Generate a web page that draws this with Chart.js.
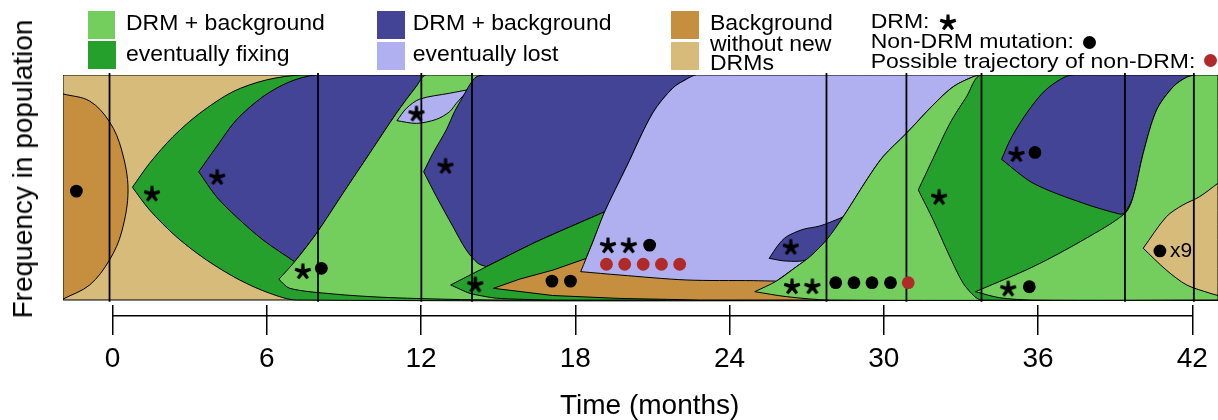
<!DOCTYPE html>
<html>
<head>
<meta charset="utf-8">
<script src="https://cdn.jsdelivr.net/npm/chart.js@4.4.1/dist/chart.umd.min.js"></script>
<style>
  html, body { margin:0; padding:0; background:#fff; }
  #wrap { position:relative; width:1218px; height:420px; overflow:hidden;
          font-family:"Liberation Sans", Arial, Helvetica, sans-serif; color:#000; }
  #chart { position:absolute; left:0; top:0; }
  .lbl { position:absolute; white-space:nowrap; font-size:23px; line-height:23px; transform-origin:0 19.5px; }
  .sw { position:absolute; }
  .dot { position:absolute; border-radius:50%; }
  .ttl { position:absolute; white-space:nowrap; font-size:28px; line-height:28px; }
</style>
</head>
<body>
<div id="wrap">
  <canvas id="chart" width="1218" height="420"></canvas>
</div>
<script>
// ---------------- data (months, frequency) ----------------
const tickValues = [0, 6, 12, 18, 24, 30, 36, 42];
const tickLabels = ['0', '6', '12', '18', '24', '30', '36', '42'];
const sampleTimes = [-0.12, 7.99, 12.01, 13.98, 27.77, 30.88, 33.80, 39.38, 42.06];

const tanBackground = [[-1.93,0],[-1.93,1],[43,1],[43,0]];
const orangeBackground = [[-1.93,0.916],[-0.89,0.884],[-0.12,0.792],[0.35,0.667],[0.60,0.489],[0.35,0.302],[-0.12,0.178],[-0.89,0.067],[-1.93,0.004],[-1.93,0.004]];
const drm1Fixing = [[0.77,0.501],[1.44,0.608],[2.35,0.726],[3.39,0.830],[4.68,0.926],[5.98,0.978],[7.40,1],[43,1],[43,1],[43,0],[43,0],[7.15,0],[6.11,0.030],[4.94,0.089],[3.65,0.178],[2.48,0.281],[1.44,0.400]];
const drm2Lost = [[3.35,0.570],[4.04,0.681],[4.81,0.800],[5.85,0.904],[6.89,0.970],[7.93,1],[12.21,1],[12.21,1],[11.82,0.950],[11.04,0.830],[10.00,0.652],[8.96,0.474],[7.93,0.296],[7.08,0.170],[7.08,0.170],[5.85,0.267],[4.81,0.370],[4.04,0.459]];
const drm3Fixing = [[6.47,0.092],[7.08,0.170],[7.93,0.296],[8.96,0.474],[10.00,0.652],[11.04,0.830],[11.82,0.950],[12.21,1],[43,1],[43,1],[43,0],[43,0],[15.06,0],[13.11,0.003],[10.52,0.012],[8.57,0.027],[6.89,0.052]];
const drm4Lost = [[11.06,0.797],[11.43,0.852],[11.95,0.893],[13.11,0.919],[13.85,0.935],[13.85,0.935],[13.37,0.874],[13.11,0.837],[12.60,0.803],[11.82,0.785]];
const drm5Lost = [[12.10,0.570],[12.46,0.652],[12.98,0.756],[13.30,0.837],[13.63,0.904],[13.89,0.956],[14.15,0.992],[14.54,1],[22.71,1],[22.32,0.981],[21.79,0.942],[21.01,0.831],[19.99,0.592],[19.14,0.392],[19.14,0.392],[16.49,0.259],[14.54,0.148],[14.54,0.148],[14.21,0.163],[13.76,0.222],[13.24,0.326],[12.60,0.459]];
const drm6Fixing = [[13.15,0.067],[14.54,0.148],[16.49,0.259],[19.14,0.392],[19.14,0.392],[18.68,0.258],[18.21,0.126],[18.21,0.126],[21.50,0],[21.50,0],[17.12,0],[14.93,0.008],[13.89,0.030]];
const background2 = [[14.82,0.052],[15.84,0.093],[17.13,0.133],[18.43,0.185],[20.0,0.20],[25.0,0.20],[26.6,0.10],[27.9,0],[22.84,0],[19.73,0.007],[17.12,0.020]];
const drm7Lost = [[18.21,0.126],[18.68,0.258],[19.14,0.392],[19.99,0.592],[21.01,0.831],[21.79,0.942],[22.32,0.981],[22.71,1],[33.80,1],[33.80,1],[33.47,0.992],[32.70,0.948],[31.92,0.867],[30.88,0.741],[29.97,0.637],[29.33,0.533],[28.42,0.370],[27.77,0.267],[27.12,0.192],[26.60,0.148],[25.82,0.084],[25.82,0.084],[24.92,0.086],[22.32,0.089],[19.73,0.111]];
const drm8Lost = [[25.54,0.185],[25.89,0.244],[26.21,0.281],[26.86,0.314],[27.51,0.329],[28.29,0.363],[28.42,0.370],[28.42,0.370],[27.77,0.262],[27.0,0.180],[26.21,0.173]];
const drm9Fixing = [[24.98,0.037],[25.82,0.084],[26.60,0.148],[27.12,0.192],[27.77,0.267],[28.42,0.370],[29.33,0.533],[29.97,0.637],[30.88,0.741],[31.92,0.867],[32.70,0.948],[33.47,0.992],[33.80,1],[43,1],[43,1],[43,0],[43,0],[27.90,0],[26.21,0.015]];
const drm10Fixing = [[31.34,0.489],[31.92,0.630],[32.57,0.785],[33.22,0.904],[33.80,1],[43,1],[43,1],[43,0],[43,0],[33.80,0],[33.54,0.015],[33.09,0.074],[32.57,0.192],[31.92,0.356]];
const drm11Lost = [[34.58,0.625],[34.98,0.726],[35.64,0.844],[36.29,0.933],[37.07,0.993],[37.50,1],[42.17,1],[41.78,0.990],[41.26,0.948],[40.61,0.844],[40.09,0.652],[39.70,0.459],[39.38,0.385],[39.38,0.385],[39.18,0.382],[37.76,0.430],[35.81,0.519]];
const drm12Fixing = [[33.57,0.037],[35.81,0.148],[37.76,0.267],[39.38,0.385],[39.70,0.459],[40.09,0.652],[40.61,0.844],[41.26,0.948],[41.78,0.990],[42.17,1],[43,1],[43,1],[43,0],[43,0],[35.80,0],[34.51,0.010]];
const background3 = [[40.09,0.230],[40.99,0.370],[41.63,0.422],[42.28,0.459],[43,0.519],[43,0.519],[43,0.020],[43,0.020],[42.69,0.030],[41.78,0.067],[40.99,0.133]];

const drmMarks = [[1.53,0.474],[4.07,0.548],[7.40,0.129],[11.82,0.830],[12.95,0.597],[14.11,0.070],[19.27,0.244],[20.08,0.244],[26.38,0.237],[26.43,0.062],[27.22,0.062],[32.15,0.459],[35.16,0.649],[34.84,0.052]];
const nonDrmMarks = [[-1.41,0.484],[8.12,0.141],[17.09,0.084],[17.81,0.084],[20.89,0.244],[28.13,0.077],[28.84,0.077],[29.54,0.077],[30.26,0.077],[35.88,0.656],[35.66,0.059],[40.74,0.218]];
const possibleMarks = [[19.21,0.159],[19.92,0.159],[20.64,0.159],[21.35,0.159],[22.06,0.159],[30.95,0.077]];

// ---------------- styles ----------------
const TAN = '#D6BB7A', ORANGE = '#C68F40', LGREEN = '#73CE5E', DGREEN = '#26A02D',
      DBLUE = '#444496', LAV = '#B0B0F0', RED = '#B02A2A';

function makeAsterisk() {
  const s = 22, c = document.createElement('canvas'); c.width = s; c.height = s;
  const g = c.getContext('2d');
  const L = 8.2, cx = s / 2, cy = s / 2 + 0.75;
  g.fillStyle = '#000';
  for (let k = 0; k < 5; k++) {
    const a = -Math.PI / 2 + k * 2 * Math.PI / 5;
    const ux = Math.cos(a), uy = Math.sin(a), px = -uy, py = ux;
    const w0 = 2.0, w1 = 1.5;
    g.beginPath();
    g.moveTo(cx + px * w0, cy + py * w0);
    g.lineTo(cx + ux * L + px * w1, cy + uy * L + py * w1);
    g.lineTo(cx + ux * L - px * w1, cy + uy * L - py * w1);
    g.lineTo(cx - px * w0, cy - py * w0);
    g.closePath(); g.fill();
  }
  return c;
}
const asterisk = makeAsterisk();

const toXY = pts => pts.map(p => ({x: p[0], y: p[1]}));
const shapes = [
  [tanBackground, TAN, 0], [orangeBackground, ORANGE, 0.35],
  [drm1Fixing, DGREEN, 0.3], [drm2Lost, DBLUE, 0.3], [drm3Fixing, LGREEN, 0.3],
  [drm4Lost, LAV, 0.3], [drm5Lost, DBLUE, 0.3], [drm6Fixing, DGREEN, 0.2],
  [background2, ORANGE, 0], [drm7Lost, LAV, 0.3], [drm8Lost, DBLUE, 0.3],
  [drm9Fixing, LGREEN, 0.3], [drm10Fixing, DGREEN, 0.3], [drm11Lost, DBLUE, 0.3],
  [drm12Fixing, LGREEN, 0.3], [background3, TAN, 0.3]
];
const datasets = shapes.map(([pts, col, ten]) => ({
  data: toXY(pts.concat([pts[0]])), showLine: true, fill: 'shape',
  backgroundColor: col, borderColor: '#000', borderWidth: 1, tension: ten,
  pointRadius: 0, pointHoverRadius: 0
}));

const lineBottom = -0.0076, lineTop = 1.009, axisLineY = -0.0698;
const vData = [];
sampleTimes.forEach(t => vData.push({x: t, y: lineBottom}, {x: t, y: lineTop}, {x: t, y: null}));
datasets.push({data: vData, showLine: true, fill: false, borderColor: '#000', borderWidth: 1.8,
  pointRadius: 0, spanGaps: false, clip: false});
datasets.push({data: [{x: tickValues[0], y: axisLineY}, {x: tickValues[tickValues.length - 1], y: axisLineY}],
  showLine: true, fill: false, borderColor: '#000', borderWidth: 1.5, pointRadius: 0, clip: false});
datasets.push({data: toXY(drmMarks), showLine: false, pointStyle: asterisk, pointRadius: 8});
datasets.push({data: toXY(nonDrmMarks), showLine: false, pointStyle: 'circle', pointRadius: 6.4,
  backgroundColor: '#000', borderWidth: 0});
datasets.push({data: toXY(possibleMarks), showLine: false, pointStyle: 'circle', pointRadius: 6.4,
  backgroundColor: RED, borderWidth: 0});
datasets.forEach((d, i) => { d.order = 1000 - i; });

Chart.defaults.font.family = '"Liberation Sans", Arial, Helvetica, sans-serif';
Chart.defaults.color = '#000';

new Chart(document.getElementById('chart'), {
  type: 'scatter',
  data: {datasets},
  options: {
    responsive: false, animation: false, events: [],
    layout: {autoPadding: false, padding: {left: 63, top: 75, right: 0, bottom: 0}},
    plugins: {legend: {display: false}, tooltip: {enabled: false}},
    scales: {
      x: {
        type: 'linear', min: -1.93, max: 43.0,
        afterBuildTicks: s => { s.ticks = tickValues.map(v => ({value: v})); },
        afterFit: s => { s.height = 115; s.paddingLeft = 0; s.paddingRight = 0; },
        grid: {drawOnChartArea: false, drawTicks: true, tickLength: 30, color: '#000', lineWidth: 1.5},
        border: {display: false},
        ticks: {padding: 7, font: {size: 28}, color: '#000', maxRotation: 0, autoSkip: false,
                callback: (v, i) => tickLabels[i]}
      },
      y: {type: 'linear', display: false, min: -0.0222, max: 1}
    }
  }
});

// ---------------- legend and titles (HTML text) ----------------
const wrap = document.getElementById('wrap');
const swatches = [
  [LGREEN, 87.5, 11, 27.5, 28], [DGREEN, 88, 41, 28, 28],
  [DBLUE, 376.7, 11, 28.3, 28], [LAV, 376.7, 41.7, 28.3, 28.3],
  [ORANGE, 671, 11, 28, 28], [TAN, 671, 41.7, 28, 28.3]
];
swatches.forEach(([c, l, t, w, h]) => {
  const d = document.createElement('div'); d.className = 'sw';
  Object.assign(d.style, {background: c, left: l + 'px', top: t + 'px', width: w + 'px', height: h + 'px'});
  wrap.appendChild(d);
});
const legendTexts = [
  ['DRM + background', 126, 30.7, 0.93], ['eventually fixing', 126, 61, 0.93],
  ['DRM + background', 412.7, 30.7, 0.93], ['eventually lost', 412.7, 61, 0.93],
  ['Background', 710, 30, 0.92], ['without new', 710, 51.7, 0.92], ['DRMs', 710, 70, 0.92],
  ['DRM:', 870.7, 28.3, 0.86], ['Non-DRM mutation:', 870.7, 48.3, 0.86],
  ['Possible trajectory of non-DRM:', 870.7, 68.3, 0.86]
];
legendTexts.forEach(([txt, l, base, sy]) => {
  const d = document.createElement('div'); d.className = 'lbl'; d.textContent = txt;
  d.style.left = l + 'px'; d.style.top = (base - 19.5) + 'px'; d.style.transform = 'scaleY(' + sy + ')';
  wrap.appendChild(d);
});
const legStar = makeAsterisk();
Object.assign(legStar.style, {position: 'absolute', left: (947.7 - 11) + 'px', top: (21.7 - 11) + 'px'});
wrap.appendChild(legStar);
[['#000', 1089.3, 42.7, 6.5], [RED, 1210, 60.7, 6.5]].forEach(([c, x, y, r]) => {
  const d = document.createElement('div'); d.className = 'dot';
  Object.assign(d.style, {background: c, left: (x - r) + 'px', top: (y - r) + 'px', width: 2 * r + 'px', height: 2 * r + 'px'});
  wrap.appendChild(d);
});
// x9 annotation
const x9 = document.createElement('div'); x9.className = 'lbl'; x9.textContent = 'x9';
Object.assign(x9.style, {left: '1170px', top: (256.7 - 17.8) + 'px', fontSize: '21px', lineHeight: '21px'});
wrap.appendChild(x9);
// axis titles
const xt = document.createElement('div'); xt.className = 'ttl'; xt.textContent = 'Time (months)';
Object.assign(xt.style, {left: '649.7px', top: '404.8px', transform: 'translate(-50%,-50%)'});
wrap.appendChild(xt);
const yt = document.createElement('div'); yt.className = 'ttl'; yt.textContent = 'Frequency in population';
Object.assign(yt.style, {left: '23.3px', top: '168.5px', transform: 'translate(-50%,-50%) rotate(-90deg)'});
wrap.appendChild(yt);
</script>
</body>
</html>
